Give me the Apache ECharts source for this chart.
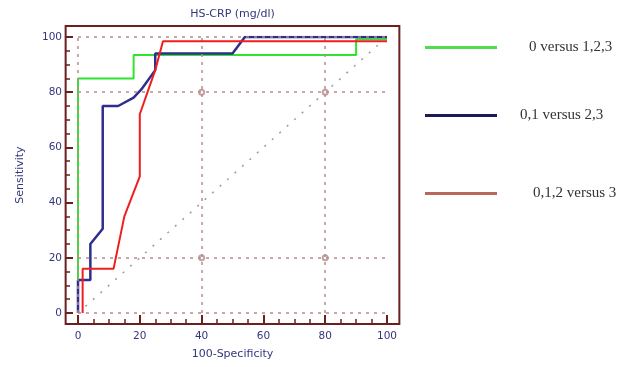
<!DOCTYPE html>
<html>
<head>
<meta charset="utf-8">
<script src="https://cdn.jsdelivr.net/npm/echarts@6/dist/echarts.min.js"></script>
<style>
  html, body { margin: 0; padding: 0; background: #fff; }
  #chart { width: 637px; height: 367px; }
</style>
</head>
<body>
<div id="chart"></div>
<script>
// series names
const seriesNames = ['0 versus 1,2,3', '0,1 versus 2,3', '0,1,2 versus 3']

// ROC curves: x = 100-Specificity, y = Sensitivity
const greenX = [0, 0, 18, 18, 90, 90, 100]
const greenY = [0, 85, 85, 93.5, 93.5, 99.2, 99.2]

const blueX = [0, 0, 4, 4, 8, 8, 13, 18, 20.5, 25, 25, 50, 54, 100]
const blueY = [0, 12, 12, 25, 30.5, 75, 75, 78, 81, 88, 94, 94, 100, 100]

const redX = [1.5, 1.5, 11.5, 15, 20, 20, 25, 27.5, 100]
const redY = [0, 16, 16, 35, 49.5, 72, 88, 98.5, 98.5]

// reference diagonal
const diagX = [0, 100]
const diagY = [0, 100]

// dotted grid lines and the small circles where they cross
const gridLinesX = [0, 40, 80]
const gridLinesY = [0, 20, 80, 100]
const circleX = [40, 80, 40, 80]
const circleY = [80, 80, 20, 20]

// axis ticks
const tickMin = 0
const tickMax = 100
const tickStep = 20

function pairs(xs, ys) {
  return xs.map((x, i) => [x, ys[i]])
}

const frameColor = '#6b1f1f'
const labelColor = '#35357f'
const gridColor = '#b58a8a'
const axisFont = 'DejaVu Sans'

const chart = echarts.init(document.getElementById('chart'))

// one legend per entry so each row can sit where the picture has it
function legendRow(name, lineY, padLeft, color) {
  return {
    left: 425,
    top: lineY - 7,
    padding: 0,
    icon: 'rect',
    itemWidth: 72,
    itemHeight: 3,
    selectedMode: false,
    data: [{ name: name, itemStyle: { color: color } }],
    textStyle: {
      fontFamily: 'Liberation Serif',
      fontSize: 15,
      color: '#333',
      padding: [0, 0, 0, padLeft]
    }
  }
}

const option = {
  animation: false,
  backgroundColor: '#fff',
  grid: {
    left: 78,
    right: 250,
    top: 37,
    bottom: 54
  },
  legend: [
    legendRow(seriesNames[0], 47, 27, '#4fdc4f'),
    legendRow(seriesNames[1], 115, 18, '#1b1b5c'),
    legendRow(seriesNames[2], 193, 31, '#b8675c')
  ],
  xAxis: [
    {
      type: 'value',
      min: tickMin,
      max: tickMax,
      interval: tickStep,
      offset: 10,
      name: '100-Specificity',
      nameLocation: 'middle',
      nameGap: 26,
      nameTextStyle: { color: labelColor, fontSize: 11, fontFamily: axisFont },
      axisLine: { show: false, onZero: false },
      axisTick: { show: true, inside: true, length: 8, lineStyle: { color: frameColor, width: 2 } },
      minorTick: { show: true, splitNumber: 4, length: 4, lineStyle: { color: frameColor, width: 1.5 } },
      axisLabel: { color: labelColor, fontSize: 10.5, fontFamily: axisFont, margin: 8 },
      splitLine: { show: false }
    },
    {
      // only carries the title on top of the plot
      type: 'value',
      position: 'top',
      min: tickMin,
      max: tickMax,
      name: 'HS-CRP (mg/dl)',
      nameLocation: 'middle',
      nameGap: 17,
      nameTextStyle: { color: labelColor, fontSize: 11, fontFamily: axisFont },
      axisLine: { show: false, onZero: false },
      axisTick: { show: false },
      axisLabel: { show: false },
      splitLine: { show: false }
    }
  ],
  yAxis: {
    type: 'value',
    min: tickMin,
    max: tickMax,
    interval: tickStep,
    offset: 12,
    name: 'Sensitivity',
    nameLocation: 'middle',
    nameGap: 40,
    nameTextStyle: { color: labelColor, fontSize: 11, fontFamily: axisFont },
    axisLine: { show: false, onZero: false },
    axisTick: { show: true, inside: true, length: 7, lineStyle: { color: frameColor, width: 2 } },
    minorTick: { show: true, splitNumber: 4, length: 4, lineStyle: { color: frameColor, width: 1.5 } },
    axisLabel: { color: labelColor, fontSize: 10.5, fontFamily: axisFont, margin: 4 },
    splitLine: { show: false }
  },
  series: [
    {
      name: 'diagonal',
      type: 'line',
      data: pairs(diagX, diagY),
      symbol: 'none',
      silent: true,
      lineStyle: { color: '#9a9a9a', width: 1.5, type: [2, 8] },
      markLine: {
        silent: true,
        symbol: 'none',
        label: { show: false },
        lineStyle: { color: gridColor, width: 1.5, type: [3, 5] },
        data: gridLinesX.map(v => ({ xAxis: v })).concat(gridLinesY.map(v => ({ yAxis: v })))
      },
      z: 1
    },
    {
      name: 'crossings',
      type: 'scatter',
      data: pairs(circleX, circleY),
      symbol: 'emptyCircle',
      symbolSize: 5,
      silent: true,
      itemStyle: { color: gridColor, borderWidth: 1 },
      z: 1
    },
    {
      name: seriesNames[0],
      type: 'line',
      data: pairs(greenX, greenY),
      symbol: 'none',
      lineStyle: { color: '#2fe42f', width: 2 },
      itemStyle: { color: '#2fe42f' },
      z: 3
    },
    {
      name: seriesNames[1],
      type: 'line',
      data: pairs(blueX, blueY),
      symbol: 'none',
      lineStyle: { color: '#2e2e8e', width: 2.5 },
      itemStyle: { color: '#2e2e8e' },
      z: 4
    },
    {
      name: seriesNames[2],
      type: 'line',
      data: pairs(redX, redY),
      symbol: 'none',
      lineStyle: { color: '#f01e1e', width: 2 },
      itemStyle: { color: '#f01e1e' },
      z: 5
    }
  ]
}

chart.setOption(option)

// frame around the plot, a little outside the 0..100 range like the original
const topLeft = chart.convertToPixel({ gridIndex: 0 }, [-4, 104])
const bottomRight = chart.convertToPixel({ gridIndex: 0 }, [104, -4])
chart.setOption({
  graphic: [{
    type: 'rect',
    silent: true,
    z: 10,
    shape: {
      x: topLeft[0],
      y: topLeft[1],
      width: bottomRight[0] - topLeft[0],
      height: bottomRight[1] - topLeft[1]
    },
    style: { fill: 'none', stroke: frameColor, lineWidth: 2 }
  }]
})
</script>
</body>
</html>
